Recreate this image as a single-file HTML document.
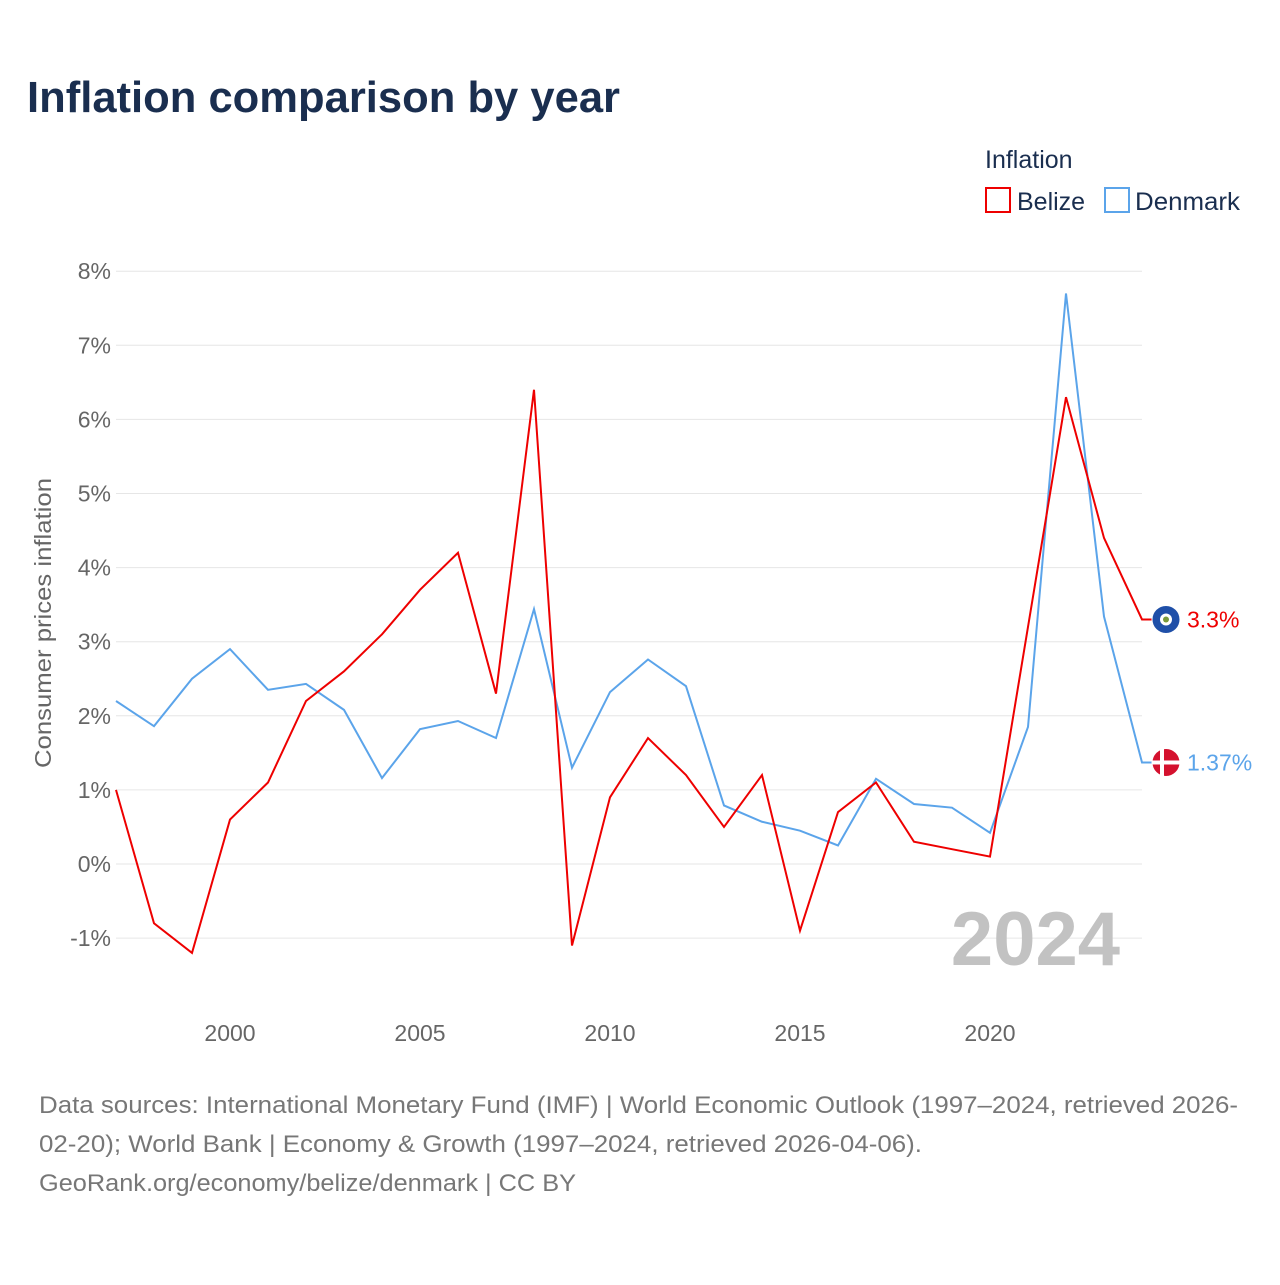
<!DOCTYPE html>
<html><head><meta charset="utf-8"><style>
body{margin:0;background:#fff;font-family:"Liberation Sans",sans-serif;}
</style></head><body>
<svg width="1280" height="1280" xmlns="http://www.w3.org/2000/svg" id="chart" font-family="Liberation Sans, sans-serif">
<text x="27" y="112" font-size="44" font-weight="bold" fill="#1a2e4f" textLength="593" lengthAdjust="spacingAndGlyphs">Inflation comparison by year</text>
<text x="985" y="168" font-size="25" fill="#1a2e4f">Inflation</text>
<g><rect x="986" y="188" width="24" height="24" fill="none" stroke="#e00" stroke-width="2"/><text x="1017" y="210" font-size="25" fill="#1a2e4f">Belize</text></g>
<g><rect x="1105" y="188" width="24" height="24" fill="none" stroke="#5ba4ea" stroke-width="2"/><text x="1135" y="210" font-size="25" fill="#1a2e4f" textLength="105" lengthAdjust="spacingAndGlyphs">Denmark</text></g>
<text transform="translate(51,623) rotate(-90)" text-anchor="middle" font-size="23" fill="#666" textLength="290" lengthAdjust="spacingAndGlyphs">Consumer prices inflation</text>
<g id="grid"></g><g id="ticks"></g><g id="lines"></g>
<text x="1120" y="965" text-anchor="end" font-size="76" font-weight="bold" fill="#c2c2c2">2024</text>
<g font-size="24" fill="#777">
<text x="39" y="1113" textLength="1199" lengthAdjust="spacingAndGlyphs">Data sources: International Monetary Fund (IMF) | World Economic Outlook (1997–2024, retrieved 2026-</text>
<text x="39" y="1152" textLength="883" lengthAdjust="spacingAndGlyphs">02-20); World Bank | Economy &amp; Growth (1997–2024, retrieved 2026-04-06).</text>
<text x="39" y="1191" textLength="537" lengthAdjust="spacingAndGlyphs">GeoRank.org/economy/belize/denmark | CC BY</text>
</g>
</svg>
<script>
const years=[1997,1998,1999,2000,2001,2002,2003,2004,2005,2006,2007,2008,2009,2010,2011,2012,2013,2014,2015,2016,2017,2018,2019,2020,2021,2022,2023,2024];
const belize=[1.0,-0.8,-1.2,0.6,1.1,2.2,2.6,3.1,3.7,4.2,2.3,6.4,-1.1,0.9,1.7,1.2,0.5,1.2,-0.9,0.7,1.1,0.3,0.2,0.1,3.2,6.3,4.4,3.3];
const denmark=[2.2,1.86,2.5,2.9,2.35,2.43,2.08,1.16,1.82,1.93,1.7,3.44,1.3,2.32,2.76,2.4,0.79,0.57,0.45,0.25,1.15,0.81,0.76,0.42,1.85,7.7,3.34,1.37];
const yTicks=[-1,0,1,2,3,4,5,6,7,8];
const xTicks=[2000,2005,2010,2015,2020];
const NS="http://www.w3.org/2000/svg";
const x=v=>116+(v-1997)*38;
const y=v=>864-v*74.1;
function mk(tag,attrs,parent,text){const e=document.createElementNS(NS,tag);for(const k in attrs)e.setAttribute(k,attrs[k]);if(text!==undefined)e.textContent=text;document.getElementById(parent).appendChild(e);return e;}
yTicks.forEach(t=>{
 const l=mk('line',{x1:116,x2:1142,y1:y(t),y2:y(t),stroke:'#e6e6e6','stroke-width':1},'grid');
 
 
 const tx=mk('text',{x:111,y:y(t)+8,'text-anchor':'end','font-size':23,fill:'#666'},'ticks',t+'%');
 
 
});
xTicks.forEach(t=>{
 const tx=mk('text',{x:x(t),y:1041,'text-anchor':'middle','font-size':23,fill:'#666'},'ticks',String(t));
 
 
});
function series(vals,color,name,label){
 let d=vals.map((v,i)=>(i?'L':'M')+x(years[i])+','+y(v)).join(' ');
 const last=vals[vals.length-1];
 d+=' L1155,'+y(last);
 const p=mk('path',{d:d,fill:'none',stroke:color,'stroke-width':2},'lines');
 
 
 const c=mk('circle',{cx:1166,cy:y(last),r:14,fill:name==='belize'?'#1f4fa8':'#d4112e',stroke:'#fff','stroke-width':1},'lines');
 
 
 if(name==='denmark'){
  mk('rect',{x:1152,y:y(last)-2,width:28,height:4,fill:'#fff'},'lines');
  mk('rect',{x:1160,y:y(last)-14,width:4,height:28,fill:'#fff'},'lines');
 }else{
  mk('circle',{cx:1166,cy:y(last),r:6,fill:'#fff'},'lines');
  mk('circle',{cx:1166,cy:y(last),r:3,fill:'#7a9a3a'},'lines');
 }
 const t=mk('text',{x:1187,y:y(last)+8,'font-size':23,fill:color},'lines',label);
 
 
}
series(denmark,'#5ba4ea','denmark','1.37%');
series(belize,'#e00','belize','3.3%');
</script>
</body></html>
